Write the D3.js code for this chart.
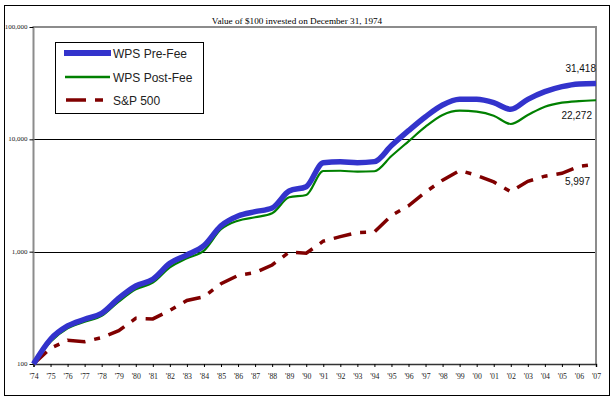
<!DOCTYPE html>
<html><head><meta charset="utf-8">
<script src="https://cdn.jsdelivr.net/npm/d3@7/dist/d3.min.js"></script>
<style>body{margin:0;background:#fff}svg{display:block}</style>
</head><body>
<svg id="c" width="616" height="402"></svg>
<script>
const years = d3.range(1974, 2008);
const tickLabels = ["'74","'75","'76","'77","'78","'79","'80","'81","'82","'83","'84","'85","'86","'87","'88","'89","'90","'91","'92","'93","'94","'95","'96","'97","'98","'99","'00","'01","'02","'03","'04","'05","'06","'07"];
const preFee = [100,166,218,250,283,385,495,568,788,934,1130,1700,2078,2270,2450,3468,3788,6196,6325,6200,6330,8800,11940,15900,20200,22720,22700,21200,18500,22700,26550,29420,31100,31418];
const postFee = [100,158,208,238,268,359,462,530,726,873,1020,1582,1887,2023,2195,3048,3196,5226,5250,5150,5200,7100,9600,12960,16470,17990,17620,16240,13700,16470,19530,21200,21900,22272];
const sp500 = [100,138,163,158,172,198,255,252,300,368,397,518,615,650,761,990,968,1240,1360,1480,1500,2100,2560,3400,4330,5280,4780,4180,3420,4230,4700,4985,5740,5997];
const yTicks = [100, 1000, 10000, 100000];
const seriesNames = ["WPS Pre-Fee", "WPS Post-Fee", "S&P 500"];
const endLabels = ["31,418", "22,272", "5,997"];
const title = "Value of $100 invested on December 31, 1974";

const svg = d3.select("#c");
const L = 33.5, R = 596, T = 27, B = 364;
const x = d3.scaleLinear().domain([1974, 2007]).range([L, R]);
const y = d3.scaleLog().domain([100, 100000]).range([B, T]);

// outer border
svg.append("rect").attr("x", 4.5).attr("y", 5.5).attr("width", 605).attr("height", 390)
  .attr("fill", "none").attr("stroke", "#000").attr("stroke-width", 1);

// gridlines
svg.append("g").selectAll("line").data([1000, 10000]).join("line")
  .attr("x1", L).attr("x2", R).attr("y1", d => Math.round(y(d)) + 0.5).attr("y2", d => Math.round(y(d)) + 0.5)
  .attr("stroke", "#000").attr("stroke-width", 1);

// plot frame top/right/left (grey)
svg.append("path").attr("d", `M${L},${B}V${T}H${R}V${B}`).attr("fill", "none")
  .attr("stroke", "#8c8c8c").attr("stroke-width", 2);

// y axis
const yAxis = d3.axisLeft(y).tickValues(yTicks).tickSize(4).tickPadding(2)
  .tickFormat(d3.format(","));
const ya = svg.append("g").attr("transform", `translate(${L},0)`).call(yAxis);
ya.select(".domain").remove();
ya.selectAll("text").attr("font-family", "Liberation Serif").attr("font-size", 7).attr("fill", "#222").attr("dy", "0.2em");
ya.selectAll("line").attr("stroke", "#000");

// x axis
const xAxis = d3.axisBottom(x).tickValues(years).tickSize(3).tickPadding(6)
  .tickFormat((d, i) => tickLabels[i]);
const xa = svg.append("g").attr("transform", `translate(0,${B})`).call(xAxis);
xa.select(".domain").attr("stroke", "#333").attr("stroke-width", 1.5);
xa.selectAll("line").attr("stroke", "#000");
xa.selectAll("text").attr("font-family", "Liberation Serif").attr("font-size", 7.8).attr("fill", "#222");

// lines
const lineSmooth = d3.line().x((d, i) => x(years[i])).y(d => y(d)).curve(d3.curveMonotoneX);
const lineStraight = d3.line().x((d, i) => x(years[i])).y(d => y(d));

svg.append("path").attr("d", lineStraight(sp500)).attr("fill", "none")
  .attr("stroke", "#800000").attr("stroke-width", 3.5).attr("stroke-dasharray", "18,9,6,9");
svg.append("path").attr("d", lineSmooth(postFee)).attr("fill", "none")
  .attr("stroke", "#008000").attr("stroke-width", 2.2);
svg.append("path").attr("d", lineSmooth(preFee)).attr("fill", "none")
  .attr("stroke", "#3333cc").attr("stroke-width", 5.5);

// title
svg.append("text").attr("x", 297).attr("y", 24).attr("text-anchor", "middle")
  .attr("font-family", "Liberation Serif").attr("font-size", 9.2).attr("fill", "#000").text(title);

// end labels
const endPos = [[596, 72], [592, 119], [590, 185]];
svg.append("g").selectAll("text").data(endLabels).join("text")
  .attr("x", (d, i) => endPos[i][0]).attr("y", (d, i) => endPos[i][1]).attr("text-anchor", "end")
  .attr("font-family", "Liberation Sans").attr("font-size", 10).attr("fill", "#111").text(d => d);

// legend
const lg = svg.append("g");
lg.append("rect").attr("x", 55.5).attr("y", 42.5).attr("width", 148).attr("height", 71)
  .attr("fill", "#fff").attr("stroke", "#000").attr("stroke-width", 1);
const legY = [53, 77, 100];
lg.append("line").attr("x1", 64).attr("x2", 111).attr("y1", legY[0]).attr("y2", legY[0])
  .attr("stroke", "#3333cc").attr("stroke-width", 6);
lg.append("line").attr("x1", 65).attr("x2", 110).attr("y1", legY[1]).attr("y2", legY[1])
  .attr("stroke", "#008000").attr("stroke-width", 2.5);
lg.append("line").attr("x1", 66).attr("x2", 103).attr("y1", legY[2]).attr("y2", legY[2])
  .attr("stroke", "#800000").attr("stroke-width", 3.5).attr("stroke-dasharray", "20,9,8,9");
lg.selectAll("text").data(seriesNames).join("text")
  .attr("x", 113).attr("y", (d, i) => legY[i] + 5)
  .attr("font-family", "Liberation Sans").attr("font-size", 12).attr("fill", "#222").text(d => d);
</script>
</body></html>
